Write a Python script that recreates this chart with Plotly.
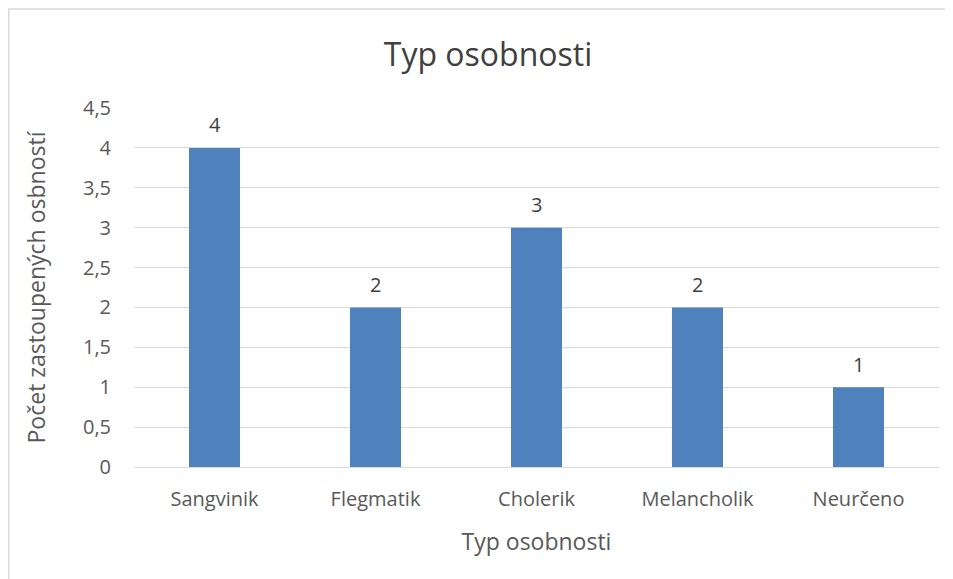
import plotly.graph_objects as go

categories = ["Sangvinik", "Flegmatik", "Cholerik", "Melancholik", "Neurčeno"]
values = [4, 2, 3, 2, 1]
tick_vals = [0, 0.5, 1, 1.5, 2, 2.5, 3, 3.5, 4, 4.5]
tick_text = ["0", "0,5", "1", "1,5", "2", "2,5", "3", "3,5", "4", "4,5"]

# page has an 8px body margin; figure is offset by (8, 8)
OFF = 8
W, H = 953 - OFF, 579 - OFF
L, R, T, B = 134 - OFF, 14, 108 - OFF, 112
pw, ph = W - L - R, H - T - B

fig = go.Figure(go.Bar(
    x=categories, y=values,
    marker=dict(color="#4F81BD", line=dict(width=0)),
))

# data labels above bars
for c, v in zip(categories, values):
    fig.add_annotation(x=c, y=v, text=str(v), showarrow=False,
                       yanchor="middle", yshift=23,
                       font=dict(family="Open Sans", size=20, color="#404040"))

# chart border (partially cut off at right/bottom as in reference)
bx0 = (0.75 - L) / pw
by1 = (H - B - 1) / ph
fig.add_shape(type="rect", xref="paper", yref="paper",
              x0=bx0, x1=1.5, y0=-1.0, y1=by1,
              line=dict(color="#D9D9D9", width=1.5), layer="below")

fig.update_layout(
    width=W, height=H,
    margin=dict(l=L, r=R, t=T, b=B),
    paper_bgcolor="white", plot_bgcolor="white",
    bargap=0.683,
    showlegend=False,
    title=dict(text="Typ osobnosti", x=(488 - OFF) / W, xref="container", xanchor="center",
               y=1 - (55 - OFF) / H, yanchor="middle",
               font=dict(family="Open Sans", size=32, color="#404040")),
    font=dict(family="Open Sans", color="#595959"),
    xaxis=dict(
        title=dict(text="Typ osobnosti", font=dict(size=23, color="#595959"), standoff=22),
        tickfont=dict(size=20, color="#595959"),
        showgrid=False, showline=False, ticks="", ticklabelstandoff=18,
    ),
    yaxis=dict(
        title=dict(text="Počet zastoupených osbností", font=dict(size=23, color="#595959"), standoff=30),
        range=[0, 4.5], tickvals=tick_vals, ticktext=tick_text,
        tickfont=dict(size=20, color="#595959"),
        showgrid=True, gridcolor="#D9D9D9", gridwidth=1.3,
        zeroline=True, zerolinecolor="#D9D9D9", zerolinewidth=1.3,
        showline=False, ticks="", ticklabelstandoff=22,
    ),
)

fig.write_html("out.html")
